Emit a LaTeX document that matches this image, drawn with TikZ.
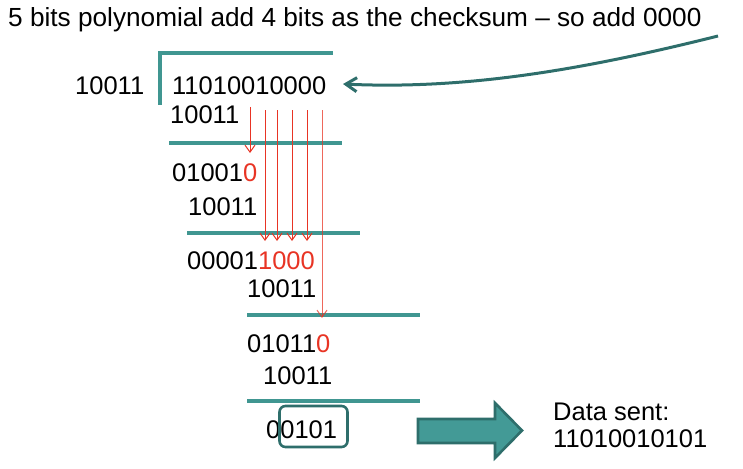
\documentclass[tikz,border=0pt]{standalone}
\usepackage{fontspec}
\setmainfont{Liberation Sans}
\usetikzlibrary{arrows.meta}
\definecolor{tealline}{RGB}{64,150,145}
\definecolor{darkteal}{RGB}{46,110,107}
\definecolor{tealfill}{RGB}{67,154,150}
\definecolor{redc}{RGB}{232,52,36}
\tikzset{
  txt/.style={anchor=base west, inner sep=0pt, font=\fontsize{25.5}{30}\selectfont},
  rule/.style={draw=tealline, line width=3.2pt},
  redarrow/.style={draw=redc, line width=1pt, -{Straight Barb[length=7pt,width=10pt]}},
  bigcurve/.style={draw=darkteal, line width=3pt, -{Straight Barb[length=11pt,width=14pt]}},
}
\begin{document}
\begin{tikzpicture}[x=1pt,y=-1pt]
\useasboundingbox (0,0) rectangle (743,468);
% title
\node[txt, font=\fontsize{26.2}{30}\selectfont] (title) at (8,27) {5 bits polynomial add 4 bits as the checksum – so add 0000};
% division bracket
\draw[rule] (160,105) -- (160,53) -- (333,53);
\node[txt] (divisor) at (75,95) {10011};
\node[txt] (dividend) at (172,95) {11010010000};
\node[txt] (s1) at (170,123) {10011};
\draw[rule] (169,143) -- (342,143);
\node[txt] (r1) at (172,181) {01001\textcolor{redc}{0}};
\node[txt] (s2) at (188,215) {10011};
\draw[rule] (187,233) -- (360,233);
\node[txt] (r2) at (187,269) {00001\textcolor{redc}{1000}};
\node[txt] (s3) at (247,297) {10011};
\draw[rule] (247,315) -- (420,315);
\node[txt] (r3) at (247,352) {01011\textcolor{redc}{0}};
\node[txt] (s4) at (263,384) {10011};
\draw[rule] (247,401) -- (420,401);
\node[txt] (rem) at (266,438) {00101};
\node[draw=darkteal, line width=2.6pt, rounded corners=6pt, minimum width=68pt, minimum height=41pt, inner sep=0pt] (box) at (313.5,426.5) {};
% red arrows
\coordinate (a1s) at (250,107); \coordinate (a1e) at (250,153);
\coordinate (a2s) at (265,110); \coordinate (a2e) at (265,241);
\coordinate (a3s) at (277,110); \coordinate (a3e) at (277,241);
\coordinate (a4s) at (292,110); \coordinate (a4e) at (292,241);
\coordinate (a5s) at (307,110); \coordinate (a5e) at (307,241);
\coordinate (a6s) at (322,110); \coordinate (a6e) at (322,318);
\draw[redarrow] (a1s) -- (a1e);
\draw[redarrow] (a2s) -- (a2e);
\draw[redarrow] (a3s) -- (a3e);
\draw[redarrow] (a4s) -- (a4e);
\draw[redarrow] (a5s) -- (a5e);
\draw[redarrow, draw opacity=0.75] (a6s) -- (a6e);
% curved arrow
\coordinate (cs) at (718,36);
\coordinate (ce) at (343,84);
\draw[bigcurve] (cs) .. controls (590,68) and (470,90) .. (ce);
% big arrow
\draw[draw=darkteal, fill=tealfill, line width=2.6pt, line join=miter]
  (418,419) -- (495,419) -- (495,403) -- (522,430.5) -- (495,458) -- (495,443) -- (418,443) -- cycle;
\node[txt] (data) at (553,420) {Data sent:};
\node[txt] (datab) at (553,447) {11010010101};
\end{tikzpicture}
\end{document}
